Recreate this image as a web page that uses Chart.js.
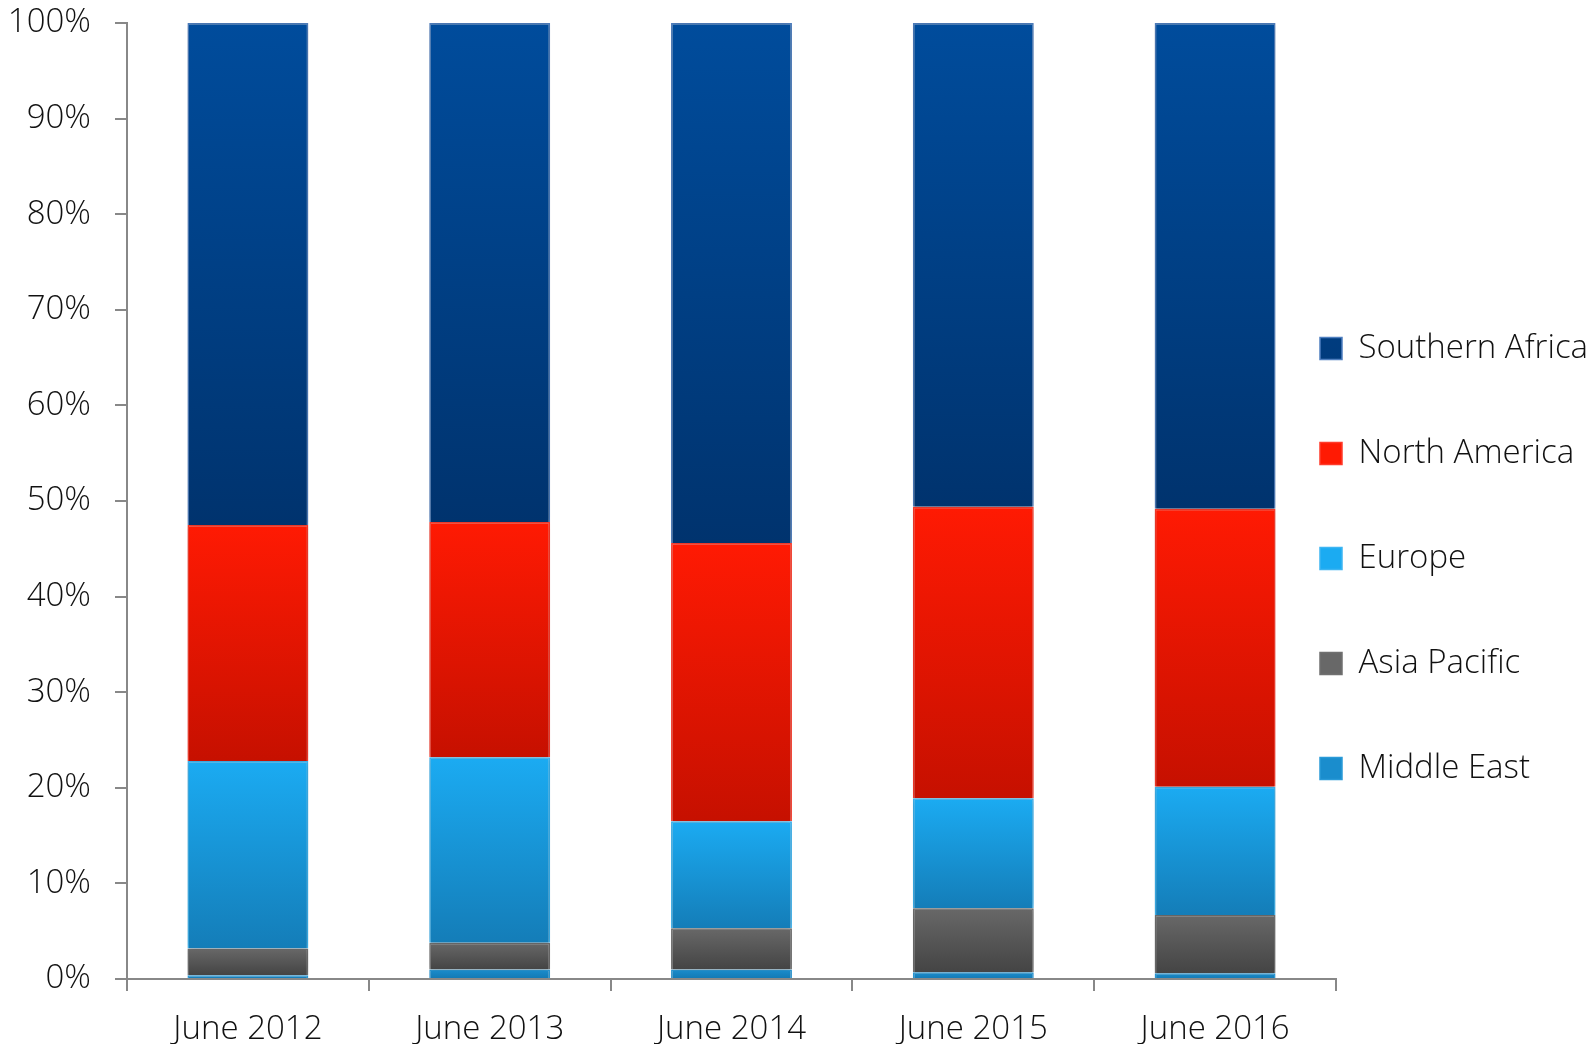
<html>
  <head></head>

  <body style="margin: 0; background: #fff;">
    <div style="width: 1593px; height: 1044px;">
      <canvas id="myChart"></canvas>
    </div>

    <script src="https://cdn.jsdelivr.net/npm/chart.js@4/dist/chart.umd.min.js"></script>
    <script>
      const labels = ['June 2012', 'June 2013', 'June 2014', 'June 2015', 'June 2016']
      const middleEast = [0.4, 1.0, 1.0, 0.7, 0.6]
      const asiaPacific = [2.8, 2.8, 4.3, 6.7, 6.1]
      const europe = [19.6, 19.4, 11.2, 11.5, 13.4]
      const northAmerica = [24.7, 24.6, 29.1, 30.5, 29.1]
      const southernAfrica = [52.5, 52.2, 54.4, 50.6, 50.8]

      const series = [middleEast, asiaPacific, europe, northAmerica, southernAfrica]

      // gradient per segment, from its own top to its own bottom
      function grad(top, bottom) {
        return function (ctx) {
          const chart = ctx.chart
          if (ctx.type !== 'data' || !chart.chartArea) return top
          const i = ctx.dataIndex
          const d = ctx.datasetIndex
          let base = 0
          for (let k = 0; k < d; k++) base += series[k][i]
          const y = chart.scales.y
          const y0 = y.getPixelForValue(base + series[d][i])
          const y1 = y.getPixelForValue(base)
          const g = chart.ctx.createLinearGradient(0, y0, 0, y1 + 0.01)
          g.addColorStop(0, top)
          g.addColorStop(1, bottom)
          return g
        }
      }

      const pad = 72
      const placeLegend = {
        id: 'placeLegend',
        afterLayout(chart) {
          const lg = chart.legend
          lg.left = 1320 - pad
          lg.top = 348 - 16 - pad
        },
      }

      const shadow = {
        id: 'shadow',
        beforeDatasetsDraw(chart) {
          const c = chart.ctx
          c.save()
          c.shadowColor = 'rgba(0,0,0,0.22)'
          c.shadowBlur = 6
        },
        afterDatasetsDraw(chart) {
          chart.ctx.restore()
        },
      }

      const font = { family: "'Open Sans', 'Noto Sans', sans-serif", size: 33, weight: 300 }

      let chart = new Chart(document.getElementById('myChart'), {
        type: 'bar',
        data: {
          labels: labels,
          datasets: [
            { label: 'Middle East', data: middleEast, backgroundColor: grad('#1A8DCD', '#1478B2'), borderColor: '#2A9AD8' },
            { label: 'Asia Pacific', data: asiaPacific, backgroundColor: grad('#686868', '#444444'), borderColor: '#707070' },
            { label: 'Europe', data: europe, backgroundColor: grad('#1BABF2', '#147DB8'), borderColor: '#3DB5F2' },
            { label: 'North America', data: northAmerica, backgroundColor: grad('#FF1A03', '#C61000'), borderColor: '#FF3B2B' },
            { label: 'Southern Africa', data: southernAfrica, backgroundColor: grad('#004C9C', '#00336E'), borderColor: '#4F7FC0' },
          ],
        },
        plugins: [placeLegend, shadow],
        options: {
          responsive: true,
          maintainAspectRatio: false,
          animation: false,
          layout: { padding: { top: 23, left: 0, right: 0, bottom: 0 } },
          datasets: {
            bar: { barPercentage: 0.5, categoryPercentage: 1, borderWidth: 1.5 },
          },
          plugins: {
            tooltip: { enabled: false },
            legend: {
              position: 'right',
              align: 'start',
              reverse: true,
              maxWidth: 257,
              labels: {
                boxWidth: 22,
                boxHeight: 22,
                padding: pad,
                color: '#111',
                font: font,
              },
            },
          },
          scales: {
            x: {
              stacked: true,
              afterFit: (s) => { s.height = 65; s.paddingLeft = 0; s.paddingRight = 0 },
              grid: { drawOnChartArea: false, tickLength: 12, color: '#888', lineWidth: 2 },
              border: { color: '#888', width: 2 },
              ticks: { color: '#111', font: font, padding: 19 },
            },
            y: {
              stacked: true,
              min: 0,
              max: 100,
              afterFit: (s) => { s.width = 127; s.paddingTop = 0; s.paddingBottom = 0 },
              grid: { drawOnChartArea: false, tickLength: 12, color: '#888', lineWidth: 2 },
              border: { color: '#888', width: 2 },
              ticks: { stepSize: 10, color: '#111', font: font, padding: 24, callback: (v) => v + '%' },
            },
          },
        },
      })
    </script>
  </body>
</html>
